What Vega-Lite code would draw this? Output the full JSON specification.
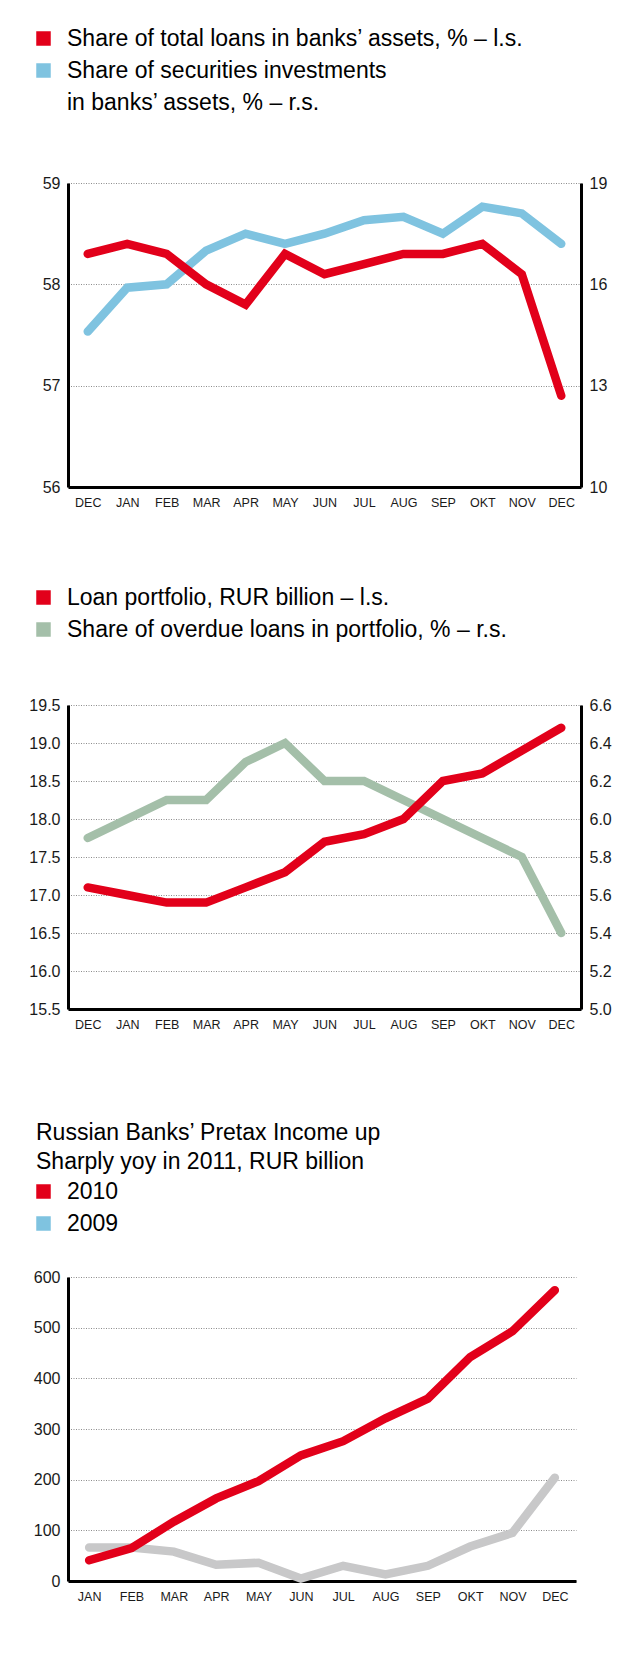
{
  "$schema": "https://vega.github.io/schema/vega-lite/v6.json",
  "background": "white",
  "padding": {"left": 28, "top": 27, "right": 0, "bottom": 0},
  "spacing": 77,
  "resolve": {"scale": {"color": "independent"}, "legend": {"color": "independent"}},
  "config": {
    "font": "Liberation Sans",
    "view": {"stroke": null},
    "axis": {"domainColor": "#000", "domainWidth": 3, "ticks": false, "labelColor": "#1a1a1a", "gridColor": "#8c8c8c", "gridDash": [1, 1.5], "gridWidth": 1, "title": null, "labelFont": "Liberation Sans"},
    "axisX": {"labelFontSize": 12.5, "labelPadding": 9, "labelAngle": 0, "grid": false},
    "axisY": {"labelFontSize": 16, "labelPadding": 8},
    "legend": {"orient": "none", "symbolType": "square", "symbolSize": 36, "symbolStrokeWidth": 11, "symbolOpacity": 1, "labelFontSize": 23, "labelFont": "Liberation Sans", "labelColor": "#000", "rowPadding": -10, "labelOffset": 12, "labelLimit": 700},
    "line": {"strokeWidth": 8.5, "strokeCap": "round"}
  },
  "datasets": {
    "assets": [
      {"month": "DEC10", "series": "Share of total loans in banks’ assets, % – l.s.", "value": 58.3},
      {"month": "JAN", "series": "Share of total loans in banks’ assets, % – l.s.", "value": 58.4},
      {"month": "FEB", "series": "Share of total loans in banks’ assets, % – l.s.", "value": 58.3},
      {"month": "MAR", "series": "Share of total loans in banks’ assets, % – l.s.", "value": 58.0},
      {"month": "APR", "series": "Share of total loans in banks’ assets, % – l.s.", "value": 57.8},
      {"month": "MAY", "series": "Share of total loans in banks’ assets, % – l.s.", "value": 58.3},
      {"month": "JUN", "series": "Share of total loans in banks’ assets, % – l.s.", "value": 58.1},
      {"month": "JUL", "series": "Share of total loans in banks’ assets, % – l.s.", "value": 58.2},
      {"month": "AUG", "series": "Share of total loans in banks’ assets, % – l.s.", "value": 58.3},
      {"month": "SEP", "series": "Share of total loans in banks’ assets, % – l.s.", "value": 58.3},
      {"month": "OKT", "series": "Share of total loans in banks’ assets, % – l.s.", "value": 58.4},
      {"month": "NOV", "series": "Share of total loans in banks’ assets, % – l.s.", "value": 58.1},
      {"month": "DEC11", "series": "Share of total loans in banks’ assets, % – l.s.", "value": 56.9},
      {"month": "DEC10", "series": "Share of securities investments", "value": 14.6},
      {"month": "JAN", "series": "Share of securities investments", "value": 15.9},
      {"month": "FEB", "series": "Share of securities investments", "value": 16.0},
      {"month": "MAR", "series": "Share of securities investments", "value": 17.0},
      {"month": "APR", "series": "Share of securities investments", "value": 17.5},
      {"month": "MAY", "series": "Share of securities investments", "value": 17.2},
      {"month": "JUN", "series": "Share of securities investments", "value": 17.5},
      {"month": "JUL", "series": "Share of securities investments", "value": 17.9},
      {"month": "AUG", "series": "Share of securities investments", "value": 18.0},
      {"month": "SEP", "series": "Share of securities investments", "value": 17.5},
      {"month": "OKT", "series": "Share of securities investments", "value": 18.3},
      {"month": "NOV", "series": "Share of securities investments", "value": 18.1},
      {"month": "DEC11", "series": "Share of securities investments", "value": 17.2}
    ],
    "portfolio": [
      {"month": "DEC10", "series": "Loan portfolio, RUR billion –  l.s.", "value": 17.1},
      {"month": "JAN", "series": "Loan portfolio, RUR billion –  l.s.", "value": 17.0},
      {"month": "FEB", "series": "Loan portfolio, RUR billion –  l.s.", "value": 16.9},
      {"month": "MAR", "series": "Loan portfolio, RUR billion –  l.s.", "value": 16.9},
      {"month": "APR", "series": "Loan portfolio, RUR billion –  l.s.", "value": 17.1},
      {"month": "MAY", "series": "Loan portfolio, RUR billion –  l.s.", "value": 17.3},
      {"month": "JUN", "series": "Loan portfolio, RUR billion –  l.s.", "value": 17.7},
      {"month": "JUL", "series": "Loan portfolio, RUR billion –  l.s.", "value": 17.8},
      {"month": "AUG", "series": "Loan portfolio, RUR billion –  l.s.", "value": 18.0},
      {"month": "SEP", "series": "Loan portfolio, RUR billion –  l.s.", "value": 18.5},
      {"month": "OKT", "series": "Loan portfolio, RUR billion –  l.s.", "value": 18.6},
      {"month": "NOV", "series": "Loan portfolio, RUR billion –  l.s.", "value": 18.9},
      {"month": "DEC11", "series": "Loan portfolio, RUR billion –  l.s.", "value": 19.2},
      {"month": "DEC10", "series": "Share of overdue loans in portfolio, % – r.s.", "value": 5.9},
      {"month": "JAN", "series": "Share of overdue loans in portfolio, % – r.s.", "value": 6.0},
      {"month": "FEB", "series": "Share of overdue loans in portfolio, % – r.s.", "value": 6.1},
      {"month": "MAR", "series": "Share of overdue loans in portfolio, % – r.s.", "value": 6.1},
      {"month": "APR", "series": "Share of overdue loans in portfolio, % – r.s.", "value": 6.3},
      {"month": "MAY", "series": "Share of overdue loans in portfolio, % – r.s.", "value": 6.4},
      {"month": "JUN", "series": "Share of overdue loans in portfolio, % – r.s.", "value": 6.2},
      {"month": "JUL", "series": "Share of overdue loans in portfolio, % – r.s.", "value": 6.2},
      {"month": "AUG", "series": "Share of overdue loans in portfolio, % – r.s.", "value": 6.1},
      {"month": "SEP", "series": "Share of overdue loans in portfolio, % – r.s.", "value": 6.0},
      {"month": "OKT", "series": "Share of overdue loans in portfolio, % – r.s.", "value": 5.9},
      {"month": "NOV", "series": "Share of overdue loans in portfolio, % – r.s.", "value": 5.8},
      {"month": "DEC11", "series": "Share of overdue loans in portfolio, % – r.s.", "value": 5.4}
    ],
    "income": [
      {"month": "JAN", "year": "2009", "value": 66},
      {"month": "FEB", "year": "2009", "value": 66},
      {"month": "MAR", "year": "2009", "value": 58},
      {"month": "APR", "year": "2009", "value": 32},
      {"month": "MAY", "year": "2009", "value": 36},
      {"month": "JUN", "year": "2009", "value": 5},
      {"month": "JUL", "year": "2009", "value": 30},
      {"month": "AUG", "year": "2009", "value": 13},
      {"month": "SEP", "year": "2009", "value": 30},
      {"month": "OKT", "year": "2009", "value": 68},
      {"month": "NOV", "year": "2009", "value": 95},
      {"month": "DEC", "year": "2009", "value": 204},
      {"month": "JAN", "year": "2010", "value": 41},
      {"month": "FEB", "year": "2010", "value": 65},
      {"month": "MAR", "year": "2010", "value": 117},
      {"month": "APR", "year": "2010", "value": 163},
      {"month": "MAY", "year": "2010", "value": 197},
      {"month": "JUN", "year": "2010", "value": 248},
      {"month": "JUL", "year": "2010", "value": 276},
      {"month": "AUG", "year": "2010", "value": 321},
      {"month": "SEP", "year": "2010", "value": 360},
      {"month": "OKT", "year": "2010", "value": 442},
      {"month": "NOV", "year": "2010", "value": 493},
      {"month": "DEC", "year": "2010", "value": 574}
    ]
  },
  "vconcat": [
    {
      "width": 513,
      "height": 304,
      "data": {"name": "assets"},
      "encoding": {
        "x": {"field": "month", "type": "ordinal", "sort": ["DEC10", "JAN", "FEB", "MAR", "APR", "MAY", "JUN", "JUL", "AUG", "SEP", "OKT", "NOV", "DEC11"], "scale": {"type": "point", "padding": 0.5}, "axis": {"labelExpr": "slice(datum.value, 0, 3)"}},
        "color": {"field": "series", "type": "nominal", "scale": {"domain": ["Share of total loans in banks’ assets, % – l.s.", "Share of securities investments", "in banks’ assets, % –  r.s."], "range": ["#e2001a", "#7fc3e0", "rgba(0,0,0,0)"]}, "legend": {"title": null, "legendX": -36, "legendY": -156}}
      },
      "layer": [
        {
          "transform": [{"filter": "datum.series === 'Share of securities investments'"}],
          "mark": {"type": "line"},
          "encoding": {"y": {"field": "value", "type": "quantitative", "scale": {"domain": [10, 19], "zero": false, "nice": false}, "axis": {"orient": "right", "values": [10, 13, 16, 19], "grid": false}}}
        },
        {
          "transform": [{"filter": "datum.series !== 'Share of securities investments'"}],
          "mark": {"type": "line"},
          "encoding": {"y": {"field": "value", "type": "quantitative", "scale": {"domain": [56, 59], "zero": false, "nice": false}, "axis": {"orient": "left", "values": [56, 57, 58, 59], "grid": true}}}
        }
      ],
      "resolve": {"scale": {"y": "independent"}}
    },
    {
      "width": 513,
      "height": 304,
      "data": {"name": "portfolio"},
      "encoding": {
        "x": {"field": "month", "type": "ordinal", "sort": ["DEC10", "JAN", "FEB", "MAR", "APR", "MAY", "JUN", "JUL", "AUG", "SEP", "OKT", "NOV", "DEC11"], "scale": {"type": "point", "padding": 0.5}, "axis": {"labelExpr": "slice(datum.value, 0, 3)", "title": " ", "titleFontSize": 13, "titlePadding": 1}},
        "color": {"field": "series", "type": "nominal", "scale": {"domain": ["Loan portfolio, RUR billion –  l.s.", "Share of overdue loans in portfolio, % – r.s."], "range": ["#e2001a", "#a4bfa9"]}, "legend": {"title": null, "legendX": -36, "legendY": -119}}
      },
      "layer": [
        {
          "transform": [{"filter": "datum.series === 'Share of overdue loans in portfolio, % – r.s.'"}],
          "mark": {"type": "line"},
          "encoding": {"y": {"field": "value", "type": "quantitative", "scale": {"domain": [5.0, 6.6], "zero": false, "nice": false}, "axis": {"orient": "right", "values": [5.0, 5.2, 5.4, 5.6, 5.8, 6.0, 6.2, 6.4, 6.6], "format": ".1f", "grid": false}}}
        },
        {
          "transform": [{"filter": "datum.series === 'Loan portfolio, RUR billion –  l.s.'"}],
          "mark": {"type": "line"},
          "encoding": {"y": {"field": "value", "type": "quantitative", "scale": {"domain": [15.5, 19.5], "zero": false, "nice": false}, "axis": {"orient": "left", "values": [15.5, 16.0, 16.5, 17.0, 17.5, 18.0, 18.5, 19.0, 19.5], "format": ".1f", "grid": true}}}
        }
      ],
      "resolve": {"scale": {"y": "independent"}}
    },
    {
      "width": 508,
      "height": 304,
      "title": {"text": ["Russian Banks’ Pretax Income up", "Sharply yoy in 2011, RUR billion"], "anchor": "start", "frame": "group", "dx": -32, "offset": 6, "fontSize": 23, "fontWeight": "normal", "font": "Liberation Sans", "lineHeight": 29, "color": "#000"},
      "data": {"name": "income"},
      "mark": {"type": "line"},
      "encoding": {
        "x": {"field": "month", "type": "ordinal", "sort": ["JAN", "FEB", "MAR", "APR", "MAY", "JUN", "JUL", "AUG", "SEP", "OKT", "NOV", "DEC"], "scale": {"type": "point", "padding": 0.5}},
        "y": {"field": "value", "type": "quantitative", "scale": {"domain": [0, 600], "nice": false}, "axis": {"values": [0, 100, 200, 300, 400, 500, 600], "grid": true}},
        "detail": {"field": "year"},
        "color": {"field": "year", "type": "nominal", "condition": {"test": "datum.year === '2009'", "value": "#c8c8c9"}, "scale": {"domain": ["2010", "2009"], "range": ["#e2001a", "#7fc3e0"]}, "legend": {"title": null, "legendX": -36, "legendY": -97, "rowPadding": -12}}
      }
    }
  ]
}
